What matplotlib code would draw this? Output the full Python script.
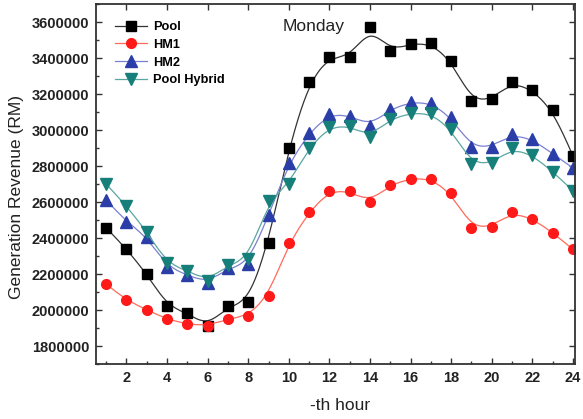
import numpy as np
import matplotlib.pyplot as plt

hours = np.arange(1, 25)
pool = [2457000, 2339000, 2200000, 2024000, 1982000, 1910000, 2022000, 2043000,
        2374000, 2902000, 3268000, 3407000, 3404000, 3570000, 3441000, 3478000,
        3481000, 3385000, 3161000, 3170000, 3267000, 3222000, 3111000, 2856000]
hm1 = [2143000, 2056000, 2000000, 1950000, 1921000, 1913000, 1950000, 1968000,
       2079000, 2372000, 2543000, 2663000, 2659000, 2600000, 2696000, 2730000,
       2730000, 2648000, 2457000, 2463000, 2543000, 2507000, 2430000, 2337000]
hm2 = [2611000, 2491000, 2407000, 2241000, 2194000, 2152000, 2232000, 2256000,
       2528000, 2815000, 2982000, 3089000, 3080000, 3024000, 3115000, 3154000,
       3151000, 3070000, 2904000, 2907000, 2976000, 2948000, 2868000, 2789000]
hybrid = [2700000, 2578000, 2435000, 2259000, 2218000, 2162000, 2250000, 2282000,
          2605000, 2700000, 2902000, 3018000, 3022000, 2963000, 3061000, 3093000,
          3093000, 3004000, 2811000, 2815000, 2898000, 2861000, 2768000, 2663000]


def bspline(x, y, n=20):
    # uniform cubic B-spline, data points used as control points (clamped ends)
    x = np.asarray(x, float)
    y = np.asarray(y, float)
    px = np.r_[x[0], x[0], x, x[-1], x[-1]]
    py = np.r_[y[0], y[0], y, y[-1], y[-1]]
    t = np.linspace(0, 1, n, endpoint=False)
    b = [(1 - t)**3 / 6, (3*t**3 - 6*t**2 + 4) / 6,
         (-3*t**3 + 3*t**2 + 3*t + 1) / 6, t**3 / 6]
    xs, ys = [], []
    for i in range(len(px) - 3):
        xs.append(sum(b[k] * px[i + k] for k in range(4)))
        ys.append(sum(b[k] * py[i + k] for k in range(4)))
    xs.append([x[-1]])
    ys.append([y[-1]])
    return np.concatenate(xs), np.concatenate(ys)


plt.rcParams['font.family'] = ['Liberation Sans', 'DejaVu Sans']

fig = plt.figure(figsize=(5.83, 4.19), dpi=100)
ax = fig.add_axes([96/583, 1-364/419, (575-96)/583, (364-4)/419])

series = [
    ('Pool', pool, 's', '#000000', '#333333', 6.5),
    ('HM1', hm1, 'o', '#ff1a1a', '#ff6a5a', 7),
    ('HM2', hm2, '^', '#2b3ea8', '#7a80d0', 8),
    ('Pool Hybrid', hybrid, 'v', '#177f7a', '#5aa6a0', 8),
]
for name, vals, m, mc, lc, ms in series:
    sx, sy = bspline(hours, vals)
    ax.plot(sx, sy, color=lc, lw=0.9)
    ax.plot(hours, vals, ls='none', marker=m, color=mc, ms=ms)
    ax.plot([], [], color=lc, lw=0.9, marker=m, mfc=mc, mec=mc, ms=ms, label=name)

ax.set_xlim(0.5, 24.1)
ax.set_ylim(1700000, 3700000)
ax.set_xticks(range(2, 25, 2))
ax.set_xticks(range(1, 25, 2), minor=True)
ax.set_yticks(range(1800000, 3600001, 200000))
ax.set_yticks(range(1700000, 3700001, 100000), minor=True)
ax.ticklabel_format(style='plain', axis='y')

ax.tick_params(which='major', direction='in', length=4.5, width=1, color='#333333',
               top=True, right=True, labelsize=10.5, pad=5)
ax.tick_params(which='minor', direction='in', length=2.5, width=1, color='#333333')
for lab in ax.get_xticklabels() + ax.get_yticklabels():
    lab.set_fontweight('bold')
    lab.set_color('#222222')
for s in ax.spines.values():
    s.set_linewidth(1.3)
    s.set_color('#333333')

ax.set_xlabel('-th hour', fontsize=12.5, color='#222222')
ax.xaxis.set_label_coords(0.51, -0.095)
ax.set_ylabel('Generation Revenue (RM)', fontsize=12.5, color='#222222')
ax.yaxis.set_label_coords(-0.15, 0.464)

ax.text((283-96)/479, 1-(26-4)/360, 'Monday', fontsize=12.5, va='center', ha='left',
        color='#222222', transform=ax.transAxes)

leg = ax.legend(loc='upper left', bbox_to_anchor=(19/479, 1-(21-4)/360), frameon=False,
                borderaxespad=0, borderpad=0, handlelength=2.5, handletextpad=0.45,
                labelspacing=0.45, prop={'size': 9.2, 'weight': 'bold'})

fig.savefig('out.png', dpi=100)
